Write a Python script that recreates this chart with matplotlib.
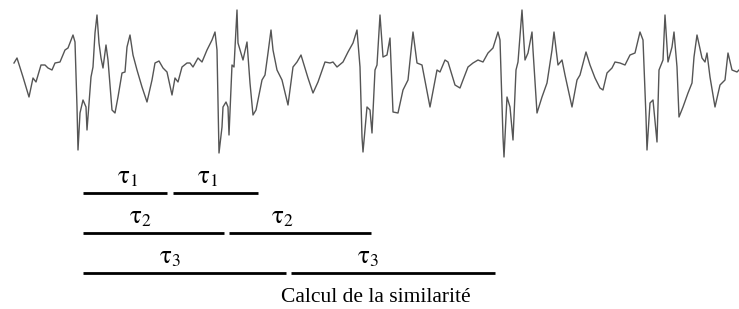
import numpy as np
import matplotlib.pyplot as plt

plt.rcParams['font.family'] = ['Liberation Serif', 'DejaVu Serif']
plt.rcParams['mathtext.fontset'] = 'stix'

# signal trace (x, y in image pixels, y grows downwards)
sig_x = [14, 17, 23, 29, 33, 36, 41, 45, 48, 52, 55, 60, 65, 68, 73, 75, 77, 78, 80, 83, 86, 87,
         91, 93, 95, 97, 99, 101, 103, 106, 108, 112, 115, 118, 122, 125, 127, 130, 133, 137, 142,
         147, 152, 155, 159, 163, 167, 172, 175, 178, 182, 187,
         190, 193, 198, 202, 207, 212, 215, 217, 219, 222, 223, 226, 228, 229, 232, 234, 237, 238,
         241, 243, 247, 250, 253, 256, 262, 265, 268, 271, 273, 277, 282, 288, 293, 297, 301, 304,
         308, 313, 318, 325, 330, 333, 337, 343, 348, 353, 357, 360, 362, 363, 367, 370,
         372, 375, 377, 380, 383, 387, 390, 393, 398, 403, 408, 413, 417, 422, 430, 437, 440, 445,
         448, 455, 460, 463, 468, 473, 478, 483, 488, 493, 498, 500, 503, 504, 507, 510, 513, 516,
         518, 522, 525, 528, 532, 533, 537, 542, 547,
         552, 554, 558, 562, 565, 572, 577, 580, 586, 590, 595, 600, 603, 607, 612, 615, 620, 625,
         630, 635, 640, 643, 646, 647, 650, 653, 657, 659, 663, 665, 668, 672, 674, 677, 679, 683,
         688, 692, 694, 697, 702, 705, 707, 710, 715, 720, 725, 728, 732, 737, 739]
sig_y = [63, 58, 77, 97, 78, 82, 65, 65, 68, 70, 63, 62, 50, 48, 35, 42, 107, 150, 113, 100, 107, 130,
         77, 67, 33, 15, 43, 58, 68, 45, 60, 110, 113, 97, 73, 72, 47, 35, 55, 70, 87,
         102, 80, 63, 61, 68, 72, 95, 78, 82, 67, 63,
         63, 67, 58, 62, 50, 40, 32, 50, 153, 127, 107, 102, 107, 135, 65, 67, 10, 43,
         53, 60, 42, 83, 115, 110, 80, 75, 53, 30, 50, 70, 80, 105, 67, 62, 55, 65,
         78, 93, 82, 62, 63, 62, 67, 62, 52, 43, 30, 67, 137, 152, 107, 110,
         133, 70, 65, 15, 57, 55, 38, 112, 113, 90, 80, 32, 63, 65, 107, 70, 72, 60,
         62, 85, 88, 80, 67, 63, 60, 62, 53, 48, 32, 40, 137, 157, 97, 107, 140, 70,
         62, 10, 60, 53, 32, 50, 113, 97, 83,
         50, 32, 65, 60, 75, 107, 80, 75, 52, 65, 78, 88, 90, 73, 68, 62, 63, 65,
         55, 53, 32, 40, 117, 150, 103, 100, 142, 70, 60, 15, 62, 47, 32, 67, 117, 107,
         93, 83, 57, 35, 58, 62, 53, 77, 107, 85, 80, 53, 70, 72, 70]

# window segments: label, start, end, row y
seg_labels = [r'$\mathrm{\tau}_1$', r'$\mathrm{\tau}_1$', r'$\mathrm{\tau}_2$', r'$\mathrm{\tau}_2$',
              r'$\mathrm{\tau}_3$', r'$\mathrm{\tau}_3$']
seg_start = [83, 173, 83, 229, 83, 291]
seg_end = [167, 258, 224, 371, 286, 495]
seg_y = [193, 193, 233, 233, 273, 273]
lab_x = [128, 208, 140, 282, 170, 368]

caption = 'Calcul de la similarité'

fig = plt.figure(figsize=(7.39, 3.09), dpi=100)
ax = fig.add_axes([0, 0, 1, 1])
ax.set_xlim(0, 739)
ax.set_ylim(309, 0)
ax.axis('off')

ax.plot(sig_x, sig_y, color='#555555', lw=1.0)

for lab, x0, x1, y, lx in zip(seg_labels, seg_start, seg_end, seg_y, lab_x):
    ax.plot([x0, x1], [y, y], color='black', lw=2.0, solid_capstyle='butt')
    ax.text(lx, y - 4, lab, fontsize=18, ha='center', va='bottom')

ax.text(376, 298, caption, fontsize=15.5, ha='center', va='center')

plt.savefig('out.png', dpi=100)
